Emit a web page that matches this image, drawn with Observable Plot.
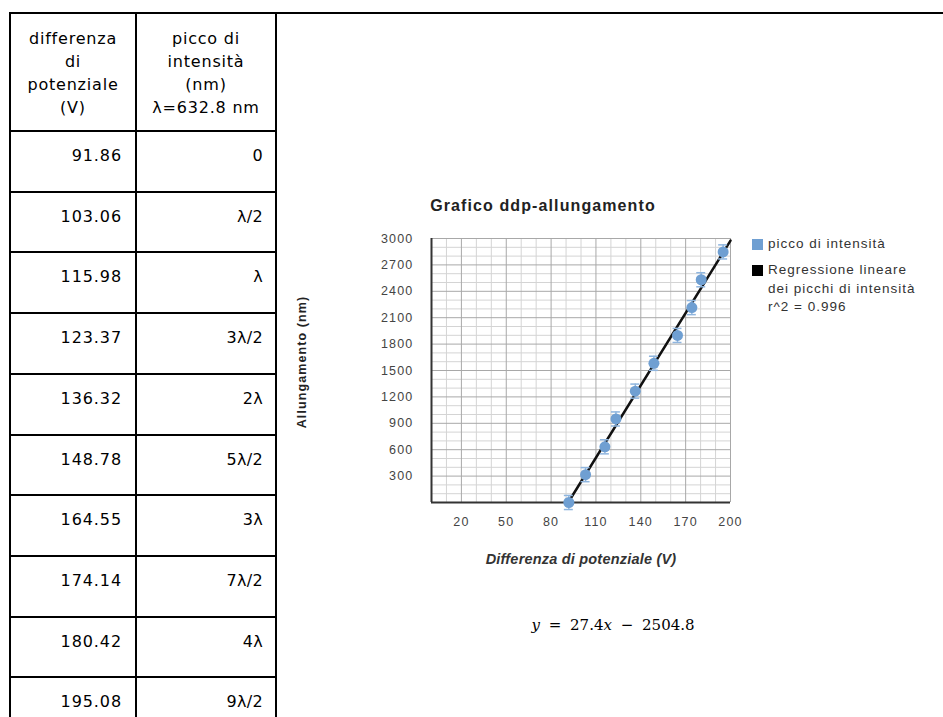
<!DOCTYPE html>
<html><head><meta charset="utf-8">
<script src="https://cdn.jsdelivr.net/npm/d3@7"></script>
<script src="https://cdn.jsdelivr.net/npm/@observablehq/plot@0.6"></script>
<style>
html,body{margin:0;padding:0;background:#fff;width:943px;height:717px;overflow:hidden;}
#page{position:relative;width:943px;height:717px;overflow:hidden;}
.ln{position:absolute;background:#000;}
.tcell{position:absolute;font-family:"DejaVu Sans",sans-serif;font-size:16px;letter-spacing:0.9px;color:#000;line-height:20px;white-space:nowrap;}
.hdr{position:absolute;font-family:"DejaVu Sans",sans-serif;font-size:16px;letter-spacing:0.8px;color:#000;line-height:23.3px;text-align:center;white-space:nowrap;}
.ctext{position:absolute;font-family:"Liberation Sans",Arial,sans-serif;color:#333;white-space:nowrap;}
.chart text{letter-spacing:1.2px;}
#plotwrap{position:absolute;left:370px;top:228px;}
</style></head>
<body><div id="page"><div id="plotwrap"></div></div>
<script>
// ---- data ----
const voltages = [91.86, 103.06, 115.98, 123.37, 136.32, 148.78, 164.55, 174.14, 180.42, 195.08];
const peakLabels = ["0", "λ/2", "λ", "3λ/2", "2λ", "5λ/2", "3λ", "7λ/2", "4λ", "9λ/2"];
const elongation = [0, 316.4, 632.8, 949.2, 1265.6, 1582, 1898.4, 2214.8, 2531.2, 2847.6];
const errY = [80, 80, 80, 80, 80, 80, 80, 80, 80, 80];
const headerCol1 = ["differenza", "di", "potenziale", "(V)"];
const headerCol2 = ["picco di", "intensità", "(nm)", "λ=632.8 nm"];
const xTicks = [20, 50, 80, 110, 140, 170, 200];
const yTicks = [300, 600, 900, 1200, 1500, 1800, 2100, 2400, 2700, 3000];
const xMinor = [0, 10, 30, 40, 60, 70, 90, 100, 120, 130, 150, 160, 180, 190];
const yMinor = [100, 200, 400, 500, 700, 800, 1000, 1100, 1300, 1400, 1600, 1700, 1900, 2000, 2200, 2300, 2500, 2600, 2800, 2900];
const fitSlope = 27.4, fitIntercept = -2504.8;
const legendItems = ["picco di intensità", "Regressione lineare\ndei picchi di intensità\nr^2 = 0.996"];

// ---- table layout ----
const page = document.getElementById("page");
function el(cls, css, html) {
  const d = document.createElement("div");
  d.className = cls; Object.assign(d.style, css);
  if (html !== undefined) d.innerHTML = html;
  page.appendChild(d); return d;
}
const tLeft = 10, c1 = 136, c2 = 276, tTop = 13, hdrBottom = 131, rowH = 60.7;
el("ln", {left: (tLeft - 1) + "px", top: (tTop - 1) + "px", width: (943 - tLeft + 1) + "px", height: "2px"});
el("ln", {left: (tLeft - 1) + "px", top: (tTop - 1) + "px", width: "2px", height: "720px"});
el("ln", {left: (c1 - 1) + "px", top: (tTop - 1) + "px", width: "2px", height: "720px"});
el("ln", {left: (c2 - 1) + "px", top: (tTop - 1) + "px", width: "2px", height: "720px"});
for (let i = 0; i <= voltages.length; i++) {
  const y = hdrBottom + i * rowH;
  el("ln", {left: (tLeft - 1) + "px", top: (y - 1) + "px", width: (c2 - tLeft + 2) + "px", height: "2px"});
}
el("hdr", {left: tLeft + "px", width: (c1 - tLeft) + "px", top: "26.5px"}, headerCol1.join("<br>"));
el("hdr", {left: c1 + "px", width: (c2 - c1) + "px", top: "26.5px"}, headerCol2.join("<br>"));
voltages.forEach((v, i) => {
  const top = hdrBottom + i * rowH + 15;
  el("tcell", {left: tLeft + "px", width: (122 - tLeft) + "px", top: top + "px", textAlign: "right"}, v.toFixed(2));
  el("tcell", {left: c1 + "px", width: (263 - c1) + "px", top: top + "px", textAlign: "right", letterSpacing: "0.3px"}, peakLabels[i]);
});

// ---- chart ----
const xMax = 200, yMax = 3000;
const points = voltages.map((v, i) => ({v, y: elongation[i], e: errY[i]}));
const fitLine = [-fitIntercept / fitSlope, xMax].map(x => ({x, y: fitSlope * x + fitIntercept}));
const blue = "#6f9fd2", errBlue = "#8fb5de";
const chart = Plot.plot({
  className: "chart",
  width: 370, height: 304,
  marginLeft: 61, marginRight: 10, marginTop: 10, marginBottom: 30,
  x: {domain: [0, xMax], ticks: xTicks, tickSize: 0, tickPadding: 15, tickFormat: d => String(d), label: null},
  y: {domain: [0, yMax], ticks: yTicks, tickSize: 0, tickPadding: 18, tickFormat: d => String(d), label: null},
  style: {fontFamily: "'Liberation Sans', Arial, sans-serif", fontSize: "12.5px", color: "#444", background: "transparent", overflow: "visible"},
  marks: [
    Plot.ruleX(xMinor, {stroke: "#d4d4d4", strokeWidth: 1}),
    Plot.ruleY(yMinor, {stroke: "#d4d4d4", strokeWidth: 1}),
    Plot.ruleX(xTicks, {stroke: "#a8a8a8", strokeWidth: 1}),
    Plot.ruleY(yTicks, {stroke: "#a8a8a8", strokeWidth: 1}),
    Plot.ruleX([0], {stroke: "#333", strokeWidth: 2}),
    Plot.ruleY([0], {stroke: "#333", strokeWidth: 2}),
    Plot.line(fitLine, {x: "x", y: "y", stroke: "#111", strokeWidth: 2.5}),
    Plot.ruleX(points, {x: "v", y1: d => d.y - d.e, y2: d => d.y + d.e, stroke: errBlue, strokeWidth: 1.5}),
    Plot.ruleY(points, {y: d => d.y + d.e, x1: d => d.v - 3, x2: d => d.v + 3, stroke: errBlue, strokeWidth: 1.5}),
    Plot.ruleY(points, {y: d => d.y - d.e, x1: d => d.v - 3, x2: d => d.v + 3, stroke: errBlue, strokeWidth: 1.5}),
    Plot.dot(points, {x: "v", y: "y", r: 5.5, fill: blue})
  ]
});
document.getElementById("plotwrap").appendChild(chart);

// ---- chart texts ----
el("ctext", {left: "543px", top: "206px", transform: "translate(-50%,-50%)", fontSize: "16px", fontWeight: "bold", letterSpacing: "1.1px", color: "#222"}, "Grafico ddp-allungamento");
el("ctext", {left: "302px", top: "362px", transform: "translate(-50%,-50%) rotate(-90deg)", fontSize: "12.5px", fontWeight: "bold", letterSpacing: "1.1px", color: "#222"}, "Allungamento (nm)");
el("ctext", {left: "581px", top: "559px", transform: "translate(-50%,-50%)", fontSize: "14.5px", fontWeight: "bold", fontStyle: "italic", letterSpacing: "0.2px", color: "#333"}, "Differenza di potenziale (V)");
// legend
el("ln", {left: "752px", top: "239px", width: "11px", height: "11px", background: blue});
el("ln", {left: "752px", top: "265px", width: "11px", height: "11px", background: "#000"});
el("ctext", {left: "768px", top: "235px", fontSize: "13.5px", letterSpacing: "1px", lineHeight: "18.5px"}, legendItems[0]);
el("ctext", {left: "768px", top: "261px", fontSize: "13.5px", letterSpacing: "1px", lineHeight: "18.5px"}, legendItems[1].split("\n").join("<br>"));
// equation
el("ctext", {left: "613px", top: "625px", transform: "translate(-50%,-50%)", fontFamily: "'DejaVu Serif', serif", fontSize: "15px", color: "#000", wordSpacing: "4px"},
  `<i>y</i> = ${fitSlope}<i>x</i> − ${Math.abs(fitIntercept)}`);
</script>
</body></html>
